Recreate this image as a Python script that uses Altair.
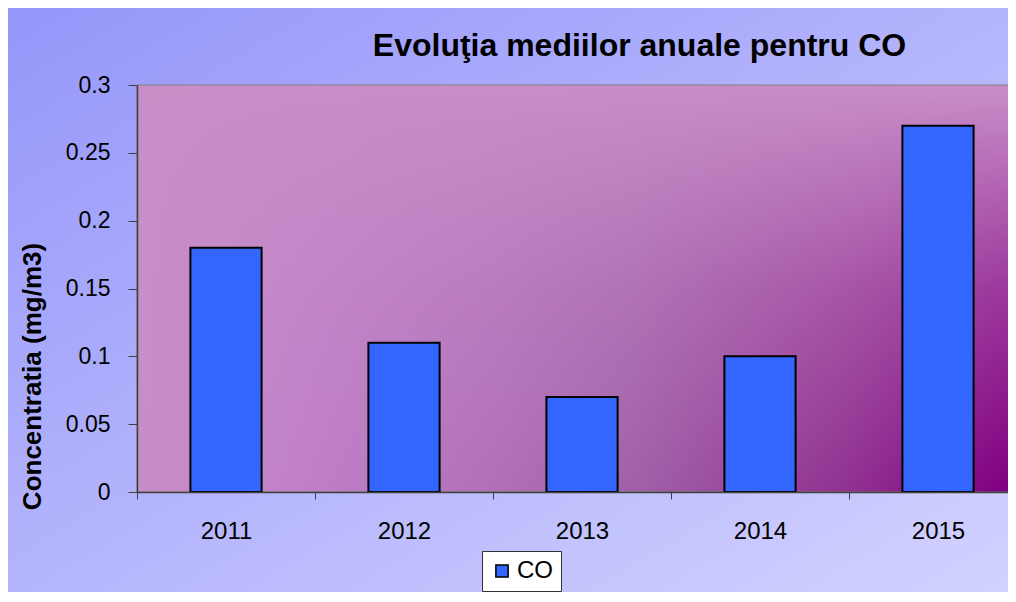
import altair as alt
import pandas as pd

# ---- data ----
years = ["2011", "2012", "2013", "2014", "2015"]
values = [0.18, 0.11, 0.07, 0.10, 0.27]
series = ["CO", "CO", "CO", "CO", "CO"]
y_ticks = [0, 0.05, 0.1, 0.15, 0.2, 0.25, 0.3]

title_text = "Evoluţia mediilor anuale pentru CO"
y_title = "Concentratia (mg/m3)"

# ---- layout ----
PAD_L, PAD_T, PAD_B = 129, 77, 100
TOTAL_W = 1000
H = 407
W = TOTAL_W - PAD_L      # visible plot area width
BAND_RANGE = 890         # the plot area continues past the right edge
TOTAL_H = PAD_T + H + PAD_B
FONT = "Liberation Sans"

df = pd.DataFrame({"year": years, "value": values, "series": series})
one = pd.DataFrame({"k": [0]})

outer_bg = alt.Chart(one).mark_rect(
    fill=alt.LinearGradient(
        gradient="linear", x1=0, y1=0, x2=1, y2=1,
        stops=[alt.GradientStop(offset=0, color="#9696FA"),
               alt.GradientStop(offset=1, color="#D2D2FF")],
    )
).encode(
    x=alt.value(-PAD_L), x2=alt.value(TOTAL_W - PAD_L),
    y=alt.value(-PAD_T), y2=alt.value(TOTAL_H - PAD_T),
)

# horizontal part of the "from corner" fill: dark purple at the right
plot_bg = alt.Chart(one).mark_rect(
    fill=alt.LinearGradient(
        gradient="linear", x1=0, y1=0, x2=1, y2=0,
        stops=[alt.GradientStop(offset=0.0, color="#C88EC8"),
               alt.GradientStop(offset=0.18, color="#C080C8"),
               alt.GradientStop(offset=0.40, color="#B070B8"),
               alt.GradientStop(offset=0.56, color="#A060A8"),
               alt.GradientStop(offset=0.80, color="#903090"),
               alt.GradientStop(offset=0.97, color="#800080"),
               alt.GradientStop(offset=1.0, color="#800080")],
    ),
).encode(
    x=alt.value(0), x2=alt.value(BAND_RANGE),
    y=alt.value(0), y2=alt.value(H),
)

# vertical fade: pink at the top, clear at the bottom
plot_fade = alt.Chart(one).mark_rect(
    fill=alt.LinearGradient(
        gradient="linear", x1=0, y1=0, x2=0, y2=1,
        stops=[alt.GradientStop(offset=0.0, color="rgba(200,142,200,1)"),
               alt.GradientStop(offset=0.5, color="rgba(200,142,200,0.4)"),
               alt.GradientStop(offset=1.0, color="rgba(200,142,200,0)")],
    ),
    stroke="#808080", strokeWidth=1,
).encode(
    x=alt.value(0), x2=alt.value(BAND_RANGE),
    y=alt.value(0), y2=alt.value(H),
)

bars = alt.Chart(df).mark_bar(
    width=alt.RelativeBandSize(0.4), stroke="black", strokeWidth=2
).encode(
    x=alt.X(
        "year:O",
        sort=years,
        scale=alt.Scale(range=[0, BAND_RANGE], paddingInner=0, paddingOuter=0),
        axis=alt.Axis(
            title=None, labelAngle=0, tickBand="extent", tickSize=7,
            labelPadding=20, labelFontSize=24, labelFont=FONT, labelColor="black",
            domainColor="#404040", tickColor="#404040", domainWidth=1.5,
            grid=False, zindex=1,
        ),
    ),
    y=alt.Y(
        "value:Q",
        scale=alt.Scale(domain=[0, 0.3], nice=False),
        axis=alt.Axis(
            title=y_title, values=y_ticks, format="~g", tickSize=9,
            labelPadding=18, labelFontSize=23, labelFont=FONT, labelColor="black",
            domainColor="#404040", tickColor="#404040", domainWidth=1.5,
            grid=False, zindex=1,
            titleFont=FONT, titleFontSize=26, titleFontWeight="bold", titleColor="black",
            titleX=-105, titleY=291, titleAngle=270, titleAlign="center",
            titleBaseline="middle",
        ),
    ),
    color=alt.Color(
        "series:N",
        scale=alt.Scale(domain=["CO"], range=["#3366FF"]),
        legend=alt.Legend(
            title=None, orient="none", legendX=345, legendY=466,
            fillColor="white", strokeColor="#333333",
            padding=8,
            symbolType="square", symbolSize=150, symbolStrokeColor="black",
            symbolStrokeWidth=1.5, symbolOpacity=1,
            labelFont=FONT, labelFontSize=24, labelColor="black", labelOffset=3,
        ),
    ),
)

chart = alt.layer(outer_bg, plot_bg, plot_fade, bars).properties(
    width=W, height=H,
    title=alt.TitleParams(
        text=title_text, anchor="middle", dx=67, dy=96, offset=16,
        font=FONT, fontSize=32, fontWeight="bold", color="black",
        baseline="alphabetic", frame="group",
    ),
    autosize=alt.AutoSizeParams(type="none"),
    padding={"left": PAD_L, "top": PAD_T, "right": 0, "bottom": PAD_B},
).configure_view(stroke=None).configure(background="white")

chart.save("out.html", embed_options={"renderer": "svg", "actions": False})
